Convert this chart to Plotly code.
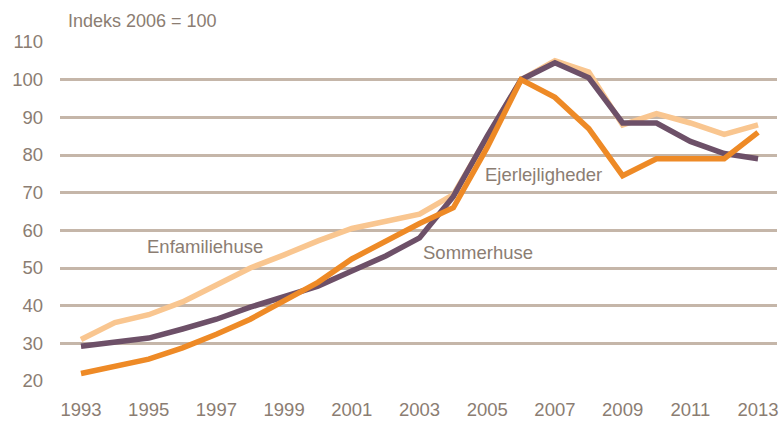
import plotly.graph_objects as go

years = list(range(1993, 2014))
enfamiliehuse = [31, 35.5, 37.6, 41, 45.5, 50, 53.5, 57.2, 60.5, 62.5, 64.3, 69.5, 85, 100, 105, 102, 88, 91, 88.5, 85.5, 88]
sommerhuse = [29.2, 30.3, 31.4, 33.8, 36.4, 39.6, 42.4, 45.2, 49.2, 53.2, 58, 69, 85, 100, 104.5, 100.5, 88.5, 88.5, 83.6, 80.4, 79]
ejerlejligheder = [22, 23.9, 25.8, 28.8, 32.4, 36.4, 41.2, 46.2, 52.4, 57.2, 61.8, 66, 82, 100, 95.3, 87, 74.5, 79, 79, 79, 86]
y_ticks = [20, 30, 40, 50, 60, 70, 80, 90, 100, 110]
x_ticks = list(range(1993, 2014, 2))

FONT = "Liberation Sans, Arial"
TXT = "#8b7d72"

fig = go.Figure()
fig.add_trace(go.Scatter(x=years, y=enfamiliehuse, mode="lines",
                         line=dict(color="#f9c690", width=5.5), name="Enfamiliehuse"))
fig.add_trace(go.Scatter(x=years, y=sommerhuse, mode="lines",
                         line=dict(color="#6d5068", width=5.5), name="Sommerhuse"))
fig.add_trace(go.Scatter(x=years, y=ejerlejligheder, mode="lines",
                         line=dict(color="#ee8a26", width=5.5), name="Ejerlejligheder"))

fig.update_layout(
    width=781, height=421,
    margin=dict(l=60, r=4, t=42, b=40),
    paper_bgcolor="white", plot_bgcolor="white",
    showlegend=False,
    font=dict(family=FONT, color=TXT, size=18),
    xaxis=dict(range=[1992.38, 2013.56], tickvals=x_ticks, ticktext=[str(v) for v in x_ticks],
               showgrid=False, zeroline=False, showline=False, ticks="", automargin=False,
               ticklabelstandoff=15,
               tickfont=dict(family=FONT, size=18.5, color=TXT)),
    yaxis=dict(range=[20, 110], tickvals=y_ticks, showgrid=True, gridcolor="#c5b6a9",
               gridwidth=3, zeroline=False, showline=False, ticks="", ticklabelstandoff=16,
               automargin=False,
               tickfont=dict(family=FONT, size=18.5, color=TXT)),
    annotations=[
        dict(text="Indeks 2006 = 100", xref="paper", yref="paper", x=0.008, y=1.0, yshift=21,
             xanchor="left", yanchor="middle", showarrow=False, font=dict(size=18, color=TXT)),
        dict(text="Enfamiliehuse", x=1996.65, y=55.6, showarrow=False, font=dict(size=18.5, color=TXT)),
        dict(text="Sommerhuse", x=2004.74, y=54, showarrow=False, font=dict(size=18.5, color=TXT)),
        dict(text="Ejerlejligheder", x=2006.65, y=74.7, showarrow=False, font=dict(size=18.5, color=TXT)),
    ],
)

fig.write_html("out.html", config={"displayModeBar": False},
               post_script="document.body.style.margin='0';document.body.style.padding='0';document.documentElement.style.overflow='hidden';")
